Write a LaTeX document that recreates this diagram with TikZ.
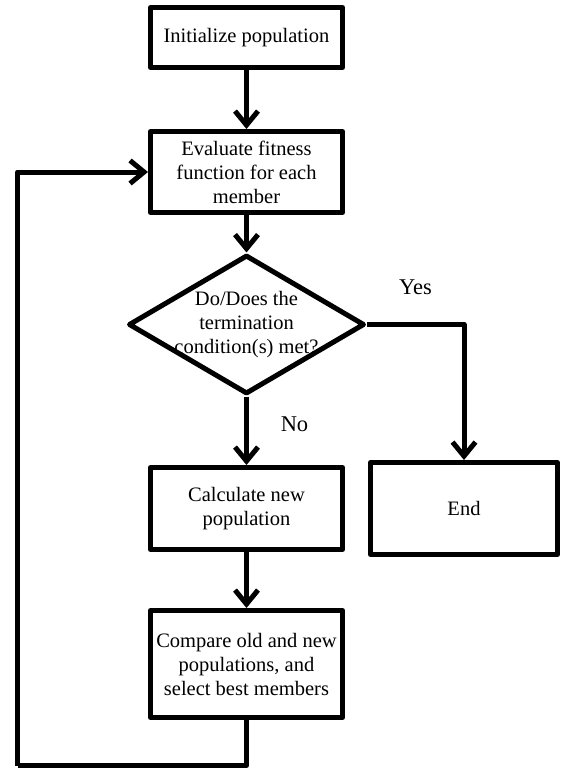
\documentclass[tikz,border=0pt]{standalone}
\usepackage{fontspec}
\setmainfont{Liberation Serif}
\usetikzlibrary{arrows.meta, shapes.geometric}
\tikzset{
  procbox/.style={rectangle, draw=black, line width=5pt, line join=round, fill=white,
    minimum width=192pt, inner sep=0pt, align=center, font=\fontsize{20.5pt}{24pt}\selectfont},
  decision/.style={diamond, draw=black, line width=5pt, line join=round, fill=white,
    minimum width=236pt, minimum height=139pt, inner sep=0pt},
  decisiontext/.style={align=center, font=\fontsize{20.5pt}{24pt}\selectfont},
  answer/.style={font=\fontsize{22.5pt}{27pt}\selectfont},
  flowarrow/.style={-{Straight Barb[length=14pt, width=23pt]}, line width=5pt, line join=round},
  flowline/.style={line width=5pt, line join=round}
}

\begin{document}
\begin{tikzpicture}[x=1pt, y=-1pt]
  \useasboundingbox (0,0) rectangle (562,771);
  \node[procbox, minimum height=60pt] (init) at (246.5,37.5) {Initialize population};
  \node[procbox, minimum height=81pt] (eval) at (246.5,172) {Evaluate fitness\\ function for each\\ member};
  \node[decision] (check) at (246.5,324.5) {};
  \node[decisiontext] (checktext) at (check.center) {Do/Does the\\ termination\\ condition(s) met?};
  \node[procbox, minimum height=82pt] (calc) at (246.5,508.5) {Calculate new\\ population};
  \node[procbox, minimum height=107pt] (compare) at (246.5,664) {Compare old and new\\ populations, and\\ select best members};
  \node[procbox, minimum width=187pt, minimum height=92pt] (end) at (464,508.5) {End};
  \coordinate (loopcorner) at (17.5,765.5);

  \draw[flowarrow] (init) -- (eval);
  \draw[flowarrow] (eval) -- (check);
  \draw[flowarrow] (check.south) -- node[answer, xshift=48pt, yshift=7pt] {No} (calc);
  \draw[flowarrow] (check.east) -| node[answer, pos=0.25, yshift=37pt] {Yes} (end);
  \draw[flowarrow] (calc) -- (compare);
  \draw[flowline] (compare.south) |- (loopcorner);
  \draw[flowarrow] (loopcorner) |- (eval.west);
\end{tikzpicture}
\end{document}
